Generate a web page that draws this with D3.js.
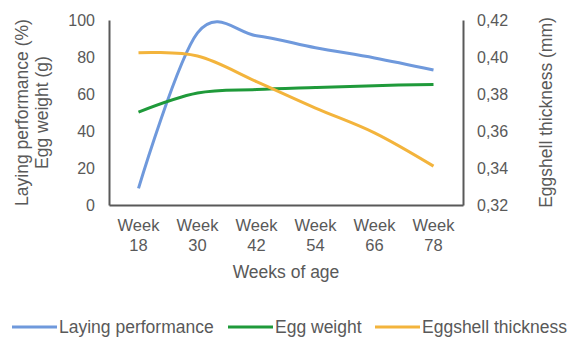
<!DOCTYPE html>
<html>
<head>
<meta charset="utf-8">
<script src="https://cdn.jsdelivr.net/npm/d3@7"></script>
<style>
  html, body { margin: 0; padding: 0; background: #fff; }
  svg text { font-family: "Liberation Sans", Arial, sans-serif; fill: #595959; }
</style>
</head>
<body>
<svg id="chart" width="568" height="337"></svg>
<script>
// Weekly measurements of the laying flock
const weeks = ["18", "30", "42", "54", "66", "78"];
const layingPerformance = [9, 93, 91.5, 85, 79.5, 73];
const eggWeight = [50.2, 60.5, 62.4, 63.5, 64.5, 65.2];
const eggshellThickness = [0.4023, 0.4005, 0.3867, 0.3724, 0.359, 0.341];
const leftTicks = [0, 20, 40, 60, 80, 100];
const rightTicks = [0.32, 0.34, 0.36, 0.38, 0.40, 0.42];

const seriesNames = ["Laying performance", "Egg weight", "Eggshell thickness"];
const seriesColors = ["#6f99dc", "#1f9a3a", "#f3b43c"];

const svg = d3.select("#chart");
const plotLeft = 109, plotRight = 463, plotTop = 20, plotBottom = 205;

const x = d3.scalePoint().domain(weeks).range([plotLeft, plotRight]).padding(0.5);
const yLeft = d3.scaleLinear().domain([0, 100]).range([plotBottom, plotTop]);
const yRight = d3.scaleLinear().domain([0.32, 0.42]).range([plotBottom, plotTop]);

const fmt = d3.format(".2f");

// Left axis
const gL = svg.append("g").attr("transform", `translate(${plotLeft},0)`)
  .call(d3.axisLeft(yLeft).tickValues(leftTicks).tickSize(0).tickPadding(14));
// Right axis
const gR = svg.append("g").attr("transform", `translate(${plotRight},0)`)
  .call(d3.axisRight(yRight).tickValues(rightTicks).tickSize(0).tickPadding(14)
    .tickFormat(d => fmt(d).replace(".", ",")));
// Bottom axis
const gB = svg.append("g").attr("transform", `translate(0,${plotBottom})`)
  .call(d3.axisBottom(x).tickSize(0).tickFormat(""));

[gL, gR, gB].forEach(g => {
  g.select(".domain").attr("stroke", "#595959").attr("stroke-width", 2);
  g.selectAll("text").attr("font-size", 16).style("fill", "#595959")
    .style("font-family", "'Liberation Sans', Arial, sans-serif");
});

// Two-line category labels
const catLabels = svg.append("g");
weeks.forEach(w => {
  const t = catLabels.append("text")
    .attr("x", x(w)).attr("text-anchor", "middle").attr("font-size", 16.5);
  t.append("tspan").attr("x", x(w)).attr("y", 231).text("Week");
  t.append("tspan").attr("x", x(w)).attr("y", 251).text(w);
});

// Axis titles
svg.append("text").attr("x", (plotLeft + plotRight) / 2).attr("y", 278)
  .attr("text-anchor", "middle").attr("font-size", 17.5).text("Weeks of age");

const lt = svg.append("text")
  .attr("transform", `translate(0,${(plotTop + plotBottom) / 2}) rotate(-90)`)
  .attr("text-anchor", "middle").attr("font-size", 17.5);
lt.append("tspan").attr("x", 0).attr("y", 28).text("Laying performance (%)");
lt.append("tspan").attr("x", 0).attr("y", 48).text("Egg weight (g)");

svg.append("text")
  .attr("transform", `translate(552,${(plotTop + plotBottom) / 2}) rotate(-90)`)
  .attr("text-anchor", "middle").attr("font-size", 17.5).text("Eggshell thickness (mm)");

// Smoothed series lines (uniform Catmull-Rom)
const curve = d3.curveCatmullRom.alpha(0);
const lineL = d3.line().x((d, i) => x(weeks[i])).y(d => yLeft(d)).curve(curve);
const lineR = d3.line().x((d, i) => x(weeks[i])).y(d => yRight(d)).curve(curve);

svg.append("path").datum(layingPerformance).attr("d", lineL)
  .attr("fill", "none").attr("stroke", seriesColors[0]).attr("stroke-width", 3);
svg.append("path").datum(eggWeight).attr("d", lineL)
  .attr("fill", "none").attr("stroke", seriesColors[1]).attr("stroke-width", 3);
svg.append("path").datum(eggshellThickness).attr("d", lineR)
  .attr("fill", "none").attr("stroke", seriesColors[2]).attr("stroke-width", 3);

// Legend
const legendX = [12, 228, 375];
const legend = svg.append("g");
seriesNames.forEach((name, i) => {
  legend.append("line").attr("x1", legendX[i]).attr("x2", legendX[i] + 45)
    .attr("y1", 327).attr("y2", 327)
    .attr("stroke", seriesColors[i]).attr("stroke-width", 3);
  legend.append("text").attr("x", legendX[i] + 47).attr("y", 333)
    .attr("font-size", 17.5).text(name);
});
</script>
</body>
</html>
